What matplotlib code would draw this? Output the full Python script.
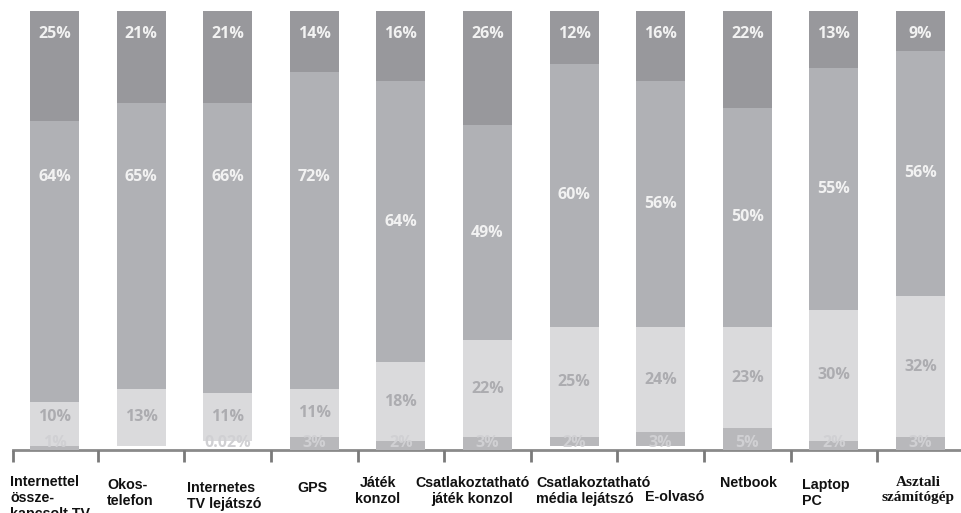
import matplotlib
matplotlib.use("Agg")
import matplotlib.pyplot as plt

# Share of owners per device, stacked from the top of the bar downwards.
categories = [
    "Internettel\nössze-\nkapcsolt TV",
    "Okos-\ntelefon",
    "Internetes\nTV lejátszó",
    "GPS",
    "Játék\nkonzol",
    "Csatlakoztatható\njáték konzol",
    "Csatlakoztatható\nmédia lejátszó",
    "E-olvasó",
    "Netbook",
    "Laptop\nPC",
    "Asztali\nszámítógép",
]
top_share = [25, 21, 21, 14, 16, 26, 12, 16, 22, 13, 9]
mid_share = [64, 65, 66, 72, 64, 49, 60, 56, 50, 55, 56]
light_share = [10, 13, 11, 11, 18, 22, 25, 24, 23, 30, 32]
bottom_share = [1, 0, 0.02, 3, 2, 3, 2, 3, 5, 2, 3]

# label placement: (ha, dx px from bar centre, dy px below the axis)
label_place = [
    ("left", -44, 25), ("left", -34, 28), ("left", -41, 31), ("left", -17, 31),
    ("center", -23, 26), ("center", -15, 26), ("left", -38, 26),
    ("left", -16, 40), ("left", -27, 26), ("left", -32, 28), ("center", -2, 26),
]
# the first four middle labels sit high up, the rest are centred
mid_label_y = [62.2, 62.2, 62.2, 62.2] + [None] * 7

C_TOP, C_MID, C_LIGHT, C_BOT = "#98989c", "#b0b1b5", "#dadadc", "#b8b8bb"
PCT_FONT = dict(family="Open Sans", fontweight="bold", fontsize=11.5)

fig = plt.figure(figsize=(9.61, 5.13), dpi=100)
ax = fig.add_axes([0, 63 / 513, 1, 439 / 513])
x = list(range(len(categories)))
w = 0.566

level = [100.0] * len(x)
segments = []
for vals, col in ((top_share, C_TOP), (mid_share, C_MID),
                  (light_share, C_LIGHT), (bottom_share, C_BOT)):
    base = [l - v for l, v in zip(level, vals)]
    ax.bar(x, vals, bottom=base, width=w, color=col, linewidth=0, zorder=2)
    segments.append(list(zip(base, vals)))
    level = base

top_seg, mid_seg, light_seg, bot_seg = segments
for i in x:
    ax.text(i, 94.8, f"{top_share[i]:g}%", ha="center", va="center",
            color="#f2f2f2", zorder=3, **PCT_FONT)
    b, v = mid_seg[i]
    my = mid_label_y[i] if mid_label_y[i] is not None else b + v / 2
    ax.text(i, my, f"{mid_share[i]:g}%", ha="center", va="center",
            color="#f2f2f2", zorder=3, **PCT_FONT)
    b, v = light_seg[i]
    ax.text(i, max(b + v / 2, 7.5), f"{light_share[i]:g}%", ha="center",
            va="center", color="#acacb0", zorder=3, **PCT_FONT)
    if bottom_share[i]:
        ax.text(i, 1.5, f"{bottom_share[i]:g}%", ha="center", va="center",
                color="#d0d0d3", zorder=3, **PCT_FONT)

for i, (name, (ha, dx, dy)) in enumerate(zip(categories, label_place)):
    serif = i == len(categories) - 1
    ax.annotate(name, xy=(i, 0), xytext=(dx, -dy), textcoords="offset pixels",
                ha=ha, va="top", multialignment=ha, linespacing=1.2,
                family="Liberation Serif" if serif else "Liberation Sans",
                fontweight="bold", fontsize=11 if serif else 10.3,
                color="#111111", annotation_clip=False)

ax.set_xlim(-54.5 / 86.6, (961 - 54.5) / 86.6)
ax.set_ylim(0, 100)
for side in ("top", "right", "left"):
    ax.spines[side].set_visible(False)
ax.spines["bottom"].set_bounds(-0.479, 10.5)
ax.spines["bottom"].set_color("#8a8a8a")
ax.spines["bottom"].set_linewidth(2)
ax.spines["bottom"].set_zorder(1)
ax.set_xticks([-0.479] + [i + 0.5 for i in range(len(categories) - 1)])
ax.set_xticklabels([])
ax.tick_params(axis="x", length=8.6, width=2, color="#7a7a7a", direction="out")
ax.set_yticks([])

fig.savefig("out.png", dpi=100)
